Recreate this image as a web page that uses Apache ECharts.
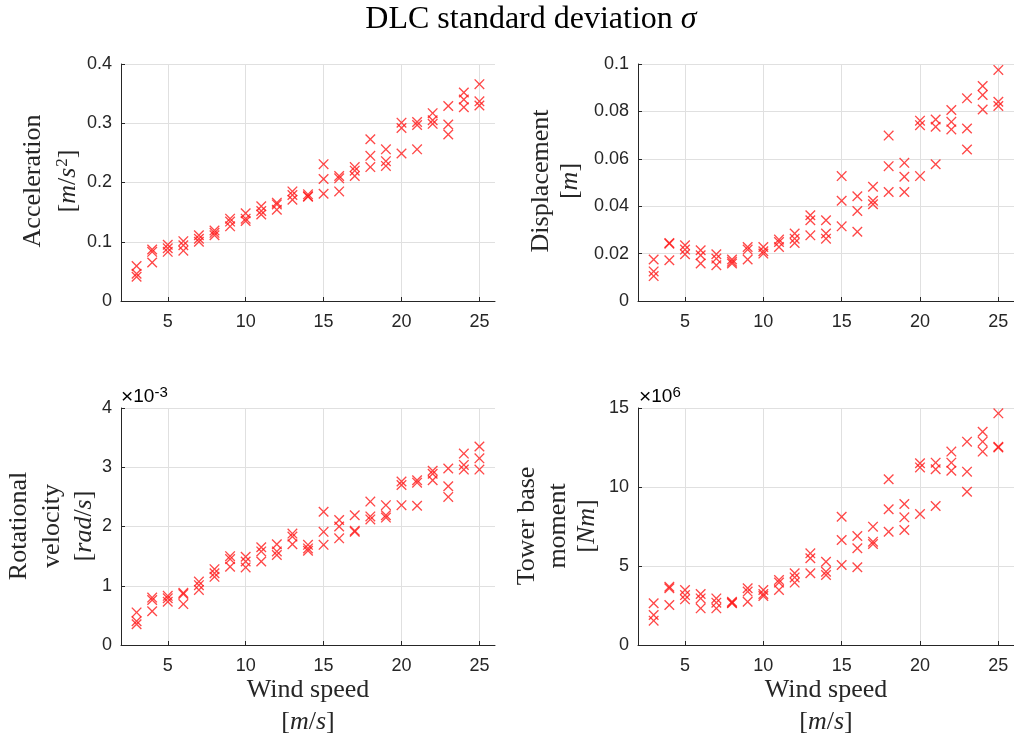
<!DOCTYPE html>
<html>
<head>
<meta charset="utf-8">
<title>DLC standard deviation</title>
<script src="https://cdn.jsdelivr.net/npm/echarts@6/dist/echarts.min.js"></script>
<style>
  html, body { margin: 0; padding: 0; background: #ffffff; }
  #chart { width: 1014px; height: 736px; }
</style>
</head>
<body>
<div id="chart"></div>
<script>
// Wind speed bins [m/s]; three simulations per bin
const windSpeeds = [3, 4, 5, 6, 7, 8, 9, 10, 11, 12, 13, 14, 15, 16, 17, 18, 19, 20, 21, 22, 23, 24, 25];

// Standard deviation of acceleration [m/s^2]
const accelerationSigma = [
  [0.059, 0.046, 0.041], [0.087, 0.083, 0.065], [0.095, 0.089, 0.083], [0.101, 0.094, 0.085],
  [0.111, 0.105, 0.100], [0.119, 0.115, 0.111], [0.139, 0.134, 0.126], [0.148, 0.139, 0.135],
  [0.160, 0.152, 0.146], [0.166, 0.163, 0.154], [0.185, 0.179, 0.171], [0.180, 0.177, 0.176],
  [0.231, 0.206, 0.181], [0.211, 0.207, 0.185], [0.226, 0.220, 0.211], [0.273, 0.245, 0.226],
  [0.256, 0.236, 0.228], [0.301, 0.292, 0.249], [0.302, 0.297, 0.256], [0.317, 0.305, 0.299],
  [0.329, 0.298, 0.281], [0.352, 0.340, 0.327], [0.366, 0.337, 0.330]
];

// Standard deviation of displacement [m]
const displacementSigma = [
  [0.0175, 0.0125, 0.0105], [0.0245, 0.0242, 0.0172], [0.0235, 0.0217, 0.0197], [0.0214, 0.0193, 0.0158],
  [0.0197, 0.0179, 0.0151], [0.0175, 0.0166, 0.0158], [0.0228, 0.0217, 0.0175], [0.0228, 0.0210, 0.0200],
  [0.0259, 0.0249, 0.0228], [0.0285, 0.0263, 0.0245], [0.0362, 0.0341, 0.0277], [0.0341, 0.0285, 0.0263],
  [0.0527, 0.0423, 0.0315], [0.0442, 0.0380, 0.0292], [0.0482, 0.0423, 0.0408], [0.0698, 0.0569, 0.0460],
  [0.0583, 0.0524, 0.0460], [0.0761, 0.0742, 0.0527], [0.0766, 0.0735, 0.0577], [0.0806, 0.0756, 0.0724],
  [0.0855, 0.0728, 0.0639], [0.0907, 0.0869, 0.0808], [0.0975, 0.0841, 0.0823]
];

// Standard deviation of rotational velocity [rad/s]
const rotationalVelocitySigma = [
  [0.00055, 0.00040, 0.00035], [0.00080, 0.00076, 0.00057], [0.00083, 0.00079, 0.00073], [0.00088, 0.00086, 0.00069],
  [0.00107, 0.00101, 0.00093], [0.00128, 0.00121, 0.00115], [0.00150, 0.00145, 0.00132], [0.00149, 0.00141, 0.00131],
  [0.00165, 0.00158, 0.00141], [0.00170, 0.00158, 0.00152], [0.00188, 0.00183, 0.00170], [0.00169, 0.00163, 0.00159],
  [0.00225, 0.00191, 0.00169], [0.00211, 0.00200, 0.00180], [0.00219, 0.00193, 0.00191], [0.00242, 0.00217, 0.00212],
  [0.00236, 0.00219, 0.00215], [0.00276, 0.00270, 0.00236], [0.00278, 0.00274, 0.00235], [0.00294, 0.00289, 0.00278],
  [0.00298, 0.00268, 0.00250], [0.00323, 0.00304, 0.00296], [0.00335, 0.00315, 0.00296]
];

// Standard deviation of tower base moment [Nm]
const towerMomentSigma = [
  [2.64e6, 1.90e6, 1.54e6], [3.69e6, 3.59e6, 2.53e6], [3.48e6, 3.16e6, 2.89e6], [3.23e6, 2.95e6, 2.32e6],
  [2.95e6, 2.68e6, 2.32e6], [2.74e6, 2.68e6, 2.64e6], [3.59e6, 3.38e6, 2.74e6], [3.48e6, 3.23e6, 3.10e6],
  [4.11e6, 3.95e6, 3.48e6], [4.54e6, 4.28e6, 3.95e6], [5.80e6, 5.49e6, 4.54e6], [5.27e6, 4.64e6, 4.43e6],
  [8.12e6, 6.65e6, 5.06e6], [6.90e6, 6.12e6, 4.92e6], [7.49e6, 6.54e6, 6.39e6], [10.49e6, 8.59e6, 7.17e6],
  [8.92e6, 8.08e6, 7.28e6], [11.50e6, 11.24e6, 8.29e6], [11.54e6, 11.12e6, 8.80e6], [12.24e6, 11.54e6, 11.03e6],
  [12.87e6, 10.97e6, 9.70e6], [13.50e6, 12.87e6, 12.24e6], [14.66e6, 12.55e6, 12.50e6]
];

// Axis tick values
const windTicks = [5, 10, 15, 20, 25];
const accelerationTicks = [0, 0.1, 0.2, 0.3, 0.4];
const displacementTicks = [0, 0.02, 0.04, 0.06, 0.08, 0.1];
const rotationalVelocityTicks = [0, 1, 2, 3, 4];      // x 10^-3
const towerMomentTicks = [0, 5, 10, 15];               // x 10^6

const SERIF = '"Liberation Serif", "DejaVu Serif", serif';
const SANS = '"Liberation Sans", Arial, sans-serif';
const AXIS_COLOR = '#262626';
const GRID_COLOR = '#e0e0e0';

function toPoints(values) {
  const pts = [];
  windSpeeds.forEach((w, i) => values[i].forEach(v => pts.push([w, v])));
  return pts;
}

// Filled "x" marker outline
const CROSS = 'path://M0,0.9L0.9,0L5,4.1L9.1,0L10,0.9L5.9,5L10,9.1L9.1,10L5,5.9L0.9,10L0,9.1L4.1,5Z';

const gridBoxes = [
  { left: 121, top: 64, width: 374, height: 237 },
  { left: 638, top: 64, width: 377, height: 237 },
  { left: 121, top: 408, width: 374, height: 237 },
  { left: 638, top: 408, width: 377, height: 237 }
];

function xAxisFor(idx) {
  return {
    type: 'value', gridIndex: idx, min: 2, max: 26,
    axisLine: { show: true, onZero: false, lineStyle: { color: AXIS_COLOR, width: 1 } },
    axisTick: { show: true, inside: true, length: 4, customValues: windTicks, lineStyle: { color: AXIS_COLOR } },
    axisLabel: { customValues: windTicks, color: AXIS_COLOR, fontFamily: SANS, fontSize: 18, margin: 12 },
    splitLine: { show: true, lineStyle: { color: GRID_COLOR, width: 1 } }
  };
}

function yAxisFor(idx, ticks, scale) {
  const step = ticks[1] - ticks[0];
  return {
    type: 'value', gridIndex: idx,
    min: 0, max: ticks[ticks.length - 1] * scale, interval: step * scale,
    axisLine: { show: true, lineStyle: { color: AXIS_COLOR, width: 1 } },
    axisTick: { show: true, inside: true, length: 4, lineStyle: { color: AXIS_COLOR } },
    axisLabel: {
      color: AXIS_COLOR, fontFamily: SANS, fontSize: 18, margin: 9,
      formatter: v => String(Math.round(v / scale * 1e6) / 1e6)
    },
    splitLine: { show: true, lineStyle: { color: GRID_COLOR, width: 1 } }
  };
}

function scatterFor(idx, values) {
  return {
    type: 'scatter', xAxisIndex: idx, yAxisIndex: idx,
    data: toPoints(values),
    symbol: CROSS, symbolSize: 10.5,
    itemStyle: { color: '#ff1a1a' },
    emphasis: { disabled: true }
  };
}

const richMath = {
  u: { fontFamily: SERIF, fontSize: 26, color: AXIS_COLOR },
  i: { fontFamily: SERIF, fontSize: 26, fontStyle: 'italic', color: AXIS_COLOR },
  s: { fontFamily: SERIF, fontSize: 17, color: AXIS_COLOR, verticalAlign: 'top', padding: [0, 0, 10, 1] }
};

function label(text, x, y, rotated) {
  return {
    type: 'text', x: x, y: y, rotation: rotated ? Math.PI / 2 : 0, silent: true,
    style: {
      text: text, align: 'center', verticalAlign: 'middle',
      fontFamily: SERIF, fontSize: 26, fill: AXIS_COLOR, rich: richMath
    }
  };
}

function exponent(power, x, y) {
  return {
    type: 'text', x: x, y: y, silent: true,
    style: {
      text: '{a|\u00d7}{b|10}{c|' + power + '}', align: 'left', verticalAlign: 'middle',
      rich: {
        a: { fontFamily: SANS, fontSize: 21, color: '#4d4d4d' },
        b: { fontFamily: SANS, fontSize: 19, color: '#4d4d4d' },
        c: { fontFamily: SANS, fontSize: 15, color: '#4d4d4d', verticalAlign: 'top', padding: [0, 0, 9, 0] }
      }
    }
  };
}

const chart = echarts.init(document.getElementById('chart'), null, { renderer: 'canvas' });

chart.setOption({
  animation: false,
  backgroundColor: '#ffffff',
  grid: gridBoxes.map(g => Object.assign({ containLabel: false }, g)),
  xAxis: [0, 1, 2, 3].map(xAxisFor),
  yAxis: [
    yAxisFor(0, accelerationTicks, 1),
    yAxisFor(1, displacementTicks, 1),
    yAxisFor(2, rotationalVelocityTicks, 1e-3),
    yAxisFor(3, towerMomentTicks, 1e6)
  ],
  series: [
    scatterFor(0, accelerationSigma),
    scatterFor(1, displacementSigma),
    scatterFor(2, rotationalVelocitySigma),
    scatterFor(3, towerMomentSigma)
  ],
  graphic: [
    {
      type: 'text', x: 531, y: 20, silent: true,
      style: {
        text: '{u|DLC standard deviation }{i|\u03c3}', align: 'center', verticalAlign: 'middle',
        rich: {
          u: { fontFamily: SERIF, fontSize: 32, color: '#000000' },
          i: { fontFamily: SERIF, fontSize: 32, fontStyle: 'italic', color: '#000000' }
        }
      }
    },
    // Acceleration panel
    label('Acceleration', 33, 181, true),
    label('{u|[}{i|m}{u|/}{i|s}{s|2}{u|]}', 68, 181, true),
    // Displacement panel
    label('Displacement', 541, 181, true),
    label('{u|[}{i|m}{u|]}', 570, 181, true),
    // Rotational velocity panel
    label('Rotational', 19, 526, true),
    label('velocity', 52, 526, true),
    label('{u|[}{i|rad}{u|/}{i|s}{u|]}', 84, 526, true),
    // Tower base moment panel
    label('Tower base', 527, 526, true),
    label('moment', 558, 526, true),
    label('{u|[}{i|Nm}{u|]}', 587, 526, true),
    // Wind speed labels
    label('Wind speed', 308, 690, false),
    label('{u|[}{i|m}{u|/}{i|s}{u|]}', 308, 722, false),
    label('Wind speed', 826, 690, false),
    label('{u|[}{i|m}{u|/}{i|s}{u|]}', 826, 722, false),
    // Axis exponents
    exponent('-3', 121, 397),
    exponent('6', 639, 397)
  ]
});
</script>
</body>
</html>
